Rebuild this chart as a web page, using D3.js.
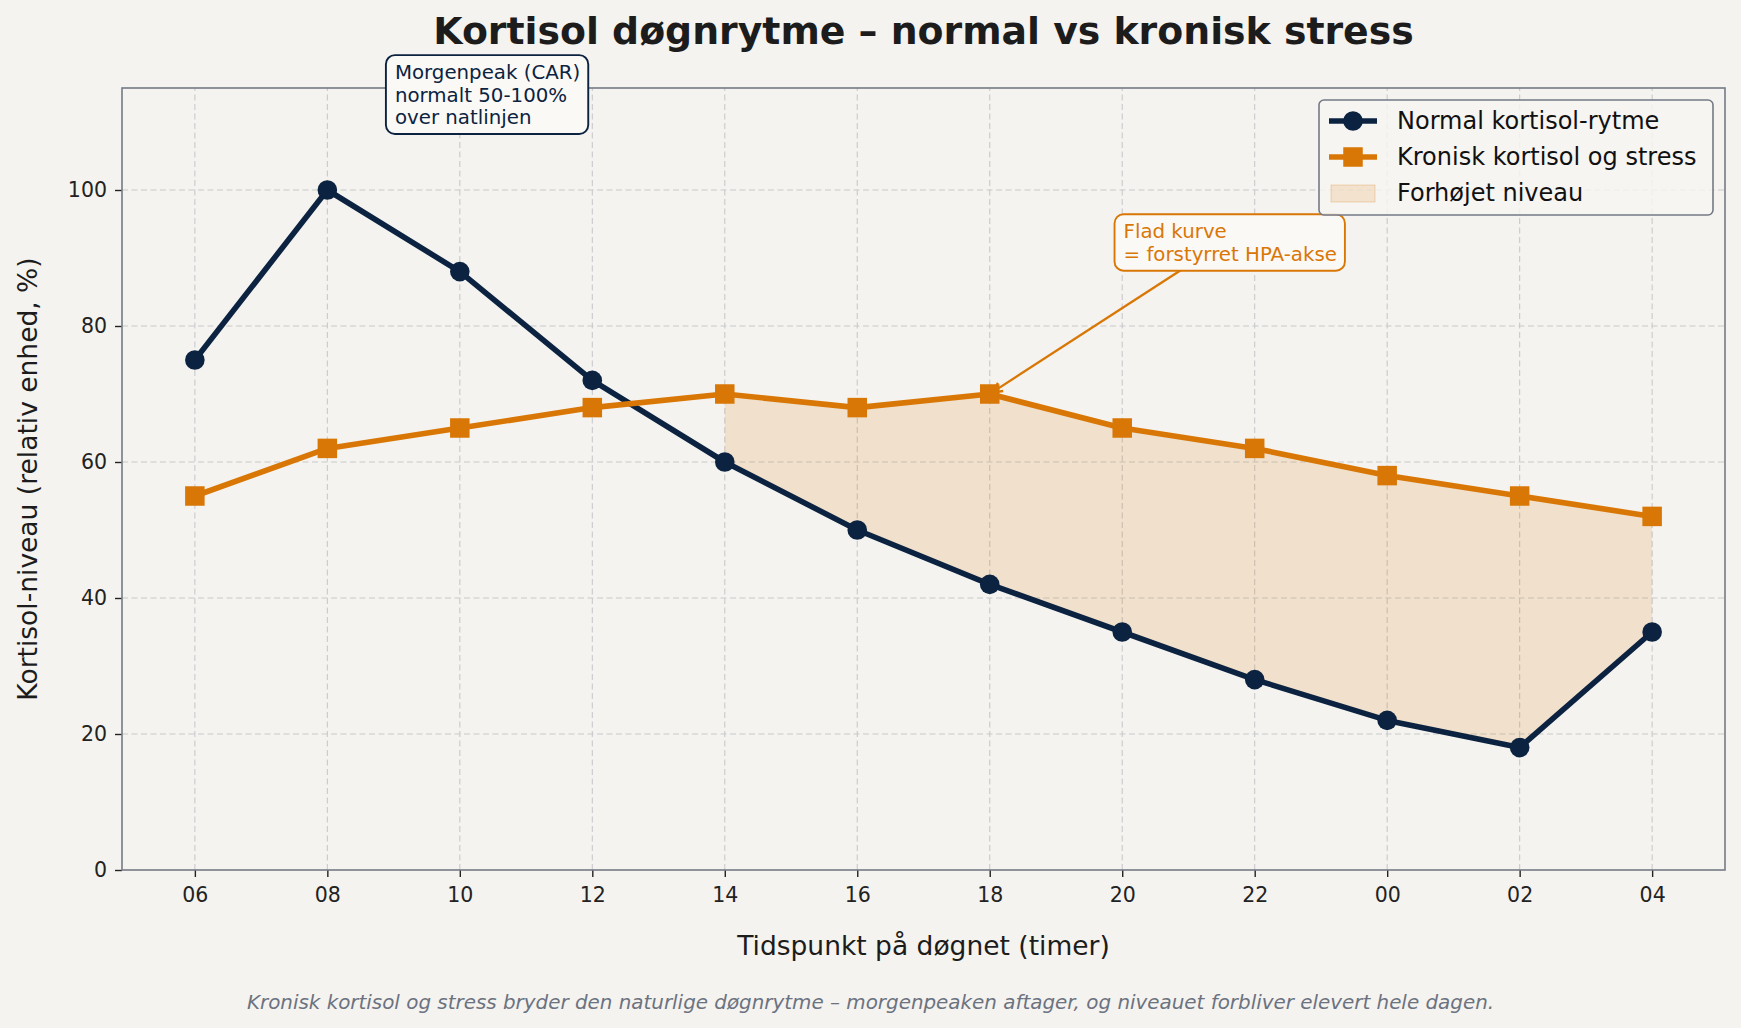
<!DOCTYPE html>
<html>
<head>
<meta charset="utf-8">
<script src="https://cdn.jsdelivr.net/npm/d3@7"></script>
<style>
  body { margin: 0; background: #f5f3ef; }
  svg { display: block; font-family: "DejaVu Sans", sans-serif; }
</style>
</head>
<body>
<div id="chart"></div>
<script>
// data
var hours = ['06', '08', '10', '12', '14', '16', '18', '20', '22', '00', '02', '04']
var normalVals = [75, 100, 88, 72, 60, 50, 42, 35, 28, 22, 18, 35]
var chronicVals = [55, 62, 65, 68, 70, 68, 70, 65, 62, 58, 55, 52]
var yTicks = [0, 20, 40, 60, 80, 100]
var fillStart = 4 // from 14 onwards chronic stays above normal

var width = 1741, height = 1028
var margin = { top: 88, right: 16, bottom: 158, left: 122 }

var navy = '#0b2341'
var orange = '#d97706'

var svg = d3.select('#chart')
  .append('svg')
  .attr('width', width)
  .attr('height', height)

svg.append('rect')
  .attr('width', width)
  .attr('height', height)
  .attr('fill', '#f5f3ef')

var xScale = d3.scaleLinear()
  .domain([-0.55, hours.length - 1 + 0.55])
  .range([margin.left, width - margin.right])

var yScale = d3.scaleLinear()
  .domain([0, 115])
  .range([height - margin.bottom, margin.top])

var idx = d3.range(hours.length)

// grid
var gridG = svg.append('g').attr('class', 'grid')
gridG.selectAll('.vgrid')
  .data(idx)
  .enter()
  .append('line')
  .attr('x1', d => xScale(d)).attr('x2', d => xScale(d))
  .attr('y1', yScale.range()[0]).attr('y2', yScale.range()[1])
  .style('stroke', '#c8c9cc')
  .style('stroke-dasharray', '6,3.5')
  .style('stroke-width', 1.1)

gridG.selectAll('.hgrid')
  .data(yTicks.slice(1))
  .enter()
  .append('line')
  .attr('x1', xScale.range()[0]).attr('x2', xScale.range()[1])
  .attr('y1', d => yScale(d)).attr('y2', d => yScale(d))
  .style('stroke', '#c8c9cc')
  .style('stroke-dasharray', '6,3.5')
  .style('stroke-width', 1.1)

// elevated area
var area = d3.area()
  .x(d => xScale(d))
  .y0(d => yScale(normalVals[d]))
  .y1(d => yScale(chronicVals[d]))

svg.append('path')
  .attr('d', area(idx.slice(fillStart)))
  .style('fill', orange)
  .style('fill-opacity', 0.15)

// lines
var line = vals => d3.line()
  .x(d => xScale(d))
  .y(d => yScale(vals[d]))(idx)

var lw = 5.6
svg.append('path')
  .attr('d', line(normalVals))
  .style('fill', 'none')
  .style('stroke', navy)
  .style('stroke-width', lw)
  .style('stroke-linejoin', 'round')

svg.selectAll('.dot-normal')
  .data(idx)
  .enter()
  .append('circle')
  .attr('cx', d => xScale(d))
  .attr('cy', d => yScale(normalVals[d]))
  .attr('r', 9.8)
  .style('fill', navy)

svg.append('path')
  .attr('d', line(chronicVals))
  .style('fill', 'none')
  .style('stroke', orange)
  .style('stroke-width', lw)
  .style('stroke-linejoin', 'round')

var sq = 19.5
svg.selectAll('.dot-chronic')
  .data(idx)
  .enter()
  .append('rect')
  .attr('x', d => xScale(d) - sq / 2)
  .attr('y', d => yScale(chronicVals[d]) - sq / 2)
  .attr('width', sq)
  .attr('height', sq)
  .style('fill', orange)

// axes
var xAxis = d3.axisBottom(xScale)
  .tickValues(idx)
  .tickFormat(d => hours[d])
  .tickSize(7)
  .tickPadding(10)

var xg = svg.append('g')
  .attr('transform', `translate(0,${height - margin.bottom})`)
  .call(xAxis)
xg.select('.domain').remove()
xg.selectAll('line').style('stroke', '#222').style('stroke-width', 1.4)
xg.selectAll('text').style('font-size', '20.5px').style('fill', '#222').style('font-family', 'DejaVu Sans')

var yAxis = d3.axisLeft(yScale)
  .tickValues(yTicks)
  .tickSize(7)
  .tickPadding(8)

var yg = svg.append('g')
  .attr('transform', `translate(${margin.left},0)`)
  .call(yAxis)
yg.select('.domain').remove()
yg.selectAll('line').style('stroke', '#222').style('stroke-width', 1.4)
yg.selectAll('text').style('font-size', '20.5px').style('fill', '#222').style('font-family', 'DejaVu Sans')

// frame
svg.append('rect')
  .attr('x', margin.left)
  .attr('y', margin.top)
  .attr('width', width - margin.left - margin.right)
  .attr('height', height - margin.top - margin.bottom)
  .style('fill', 'none')
  .style('stroke', '#737a86')
  .style('stroke-width', 1.6)

var plotCx = (xScale.range()[0] + xScale.range()[1]) / 2

// title
svg.append('text')
  .attr('x', plotCx)
  .attr('y', 44)
  .attr('text-anchor', 'middle')
  .text('Kortisol døgnrytme – normal vs kronisk stress')
  .style('font-size', '37.8px')
  .style('font-weight', 'bold')
  .style('fill', '#1c1c1c')

// axis labels
svg.append('text')
  .attr('x', plotCx)
  .attr('y', 955)
  .attr('text-anchor', 'middle')
  .text('Tidspunkt på døgnet (timer)')
  .style('font-size', '26.5px')
  .style('fill', '#1c1c1c')

svg.append('text')
  .attr('transform', `translate(37,${(yScale.range()[0] + yScale.range()[1]) / 2}) rotate(-90)`)
  .attr('text-anchor', 'middle')
  .text('Kortisol-niveau (relativ enhed, %)')
  .style('font-size', '26.5px')
  .style('fill', '#1c1c1c')

// footnote
svg.append('text')
  .attr('x', width / 2)
  .attr('y', 1009)
  .attr('text-anchor', 'middle')
  .text('Kronisk kortisol og stress bryder den naturlige døgnrytme – morgenpeaken aftager, og niveauet forbliver elevert hele dagen.')
  .style('font-size', '19.9px')
  .style('font-style', 'italic')
  .style('fill', '#6b7280')

// annotation boxes
function noteBox(lines, px, py, color, fontSize, lineH) {
  var g = svg.append('g')
  var t = g.append('text')
    .style('font-size', fontSize + 'px')
    .style('fill', color)
  lines.forEach((l, i) => {
    t.append('tspan')
      .attr('x', px)
      .attr('y', py + i * lineH)
      .text(l)
  })
  var bb = t.node().getBBox()
  g.insert('rect', 'text')
    .attr('x', bb.x - 9)
    .attr('y', bb.y - 6)
    .attr('width', bb.width + 17)
    .attr('height', bb.height + 11)
    .attr('rx', 9)
    .style('fill', '#fbf9f6')
    .style('stroke', color)
    .style('stroke-width', 1.9)
}

noteBox(['Morgenpeak (CAR)', 'normalt 50-100%', 'over natlinjen'], xScale(1.51), yScale(116.3), navy, 19.8, 22.4)

// arrow for flat curve note (drawn over the markers)
var arrowTip = { x: xScale(6), y: yScale(chronicVals[6]) }
var boxAnchor = { x: xScale(7.45), y: yScale(88.3) }
var ang = Math.atan2(boxAnchor.y - arrowTip.y, boxAnchor.x - arrowTip.x)
var tip = { x: arrowTip.x + 3 * Math.cos(ang), y: arrowTip.y + 3 * Math.sin(ang) }
svg.append('line')
  .attr('x1', boxAnchor.x).attr('y1', boxAnchor.y)
  .attr('x2', tip.x).attr('y2', tip.y)
  .style('stroke', orange)
  .style('stroke-width', 2.3)
var hl = 11, ha = 0.45
svg.append('path')
  .attr('d', `M${tip.x + hl * Math.cos(ang + ha)},${tip.y + hl * Math.sin(ang + ha)} L${tip.x},${tip.y} L${tip.x + hl * Math.cos(ang - ha)},${tip.y + hl * Math.sin(ang - ha)}`)
  .style('fill', 'none')
  .style('stroke', orange)
  .style('stroke-width', 2.3)

noteBox(['Flad kurve', '= forstyrret HPA-akse'], xScale(7.01), yScale(92.9), orange, 19.8, 22.4)

// legend
var legend = svg.append('g').attr('transform', 'translate(1319,100)')
legend.append('rect')
  .attr('width', 394)
  .attr('height', 115)
  .attr('rx', 5)
  .style('fill', '#f7f5f1')
  .style('fill-opacity', 0.85)
  .style('stroke', '#737a86')
  .style('stroke-width', 1.6)

var legendItems = ['Normal kortisol-rytme', 'Kronisk kortisol og stress', 'Forhøjet niveau']
legendItems.forEach((name, i) => {
  var cy = 21 + i * 36
  var row = legend.append('g').attr('transform', `translate(0,${cy})`)
  if (i === 0) {
    row.append('line').attr('x1', 10).attr('x2', 58).style('stroke', navy).style('stroke-width', lw)
    row.append('circle').attr('cx', 34).attr('r', 9.8).style('fill', navy)
  } else if (i === 1) {
    row.append('line').attr('x1', 10).attr('x2', 58).style('stroke', orange).style('stroke-width', lw)
    row.append('rect').attr('x', 34 - sq / 2).attr('y', -sq / 2).attr('width', sq).attr('height', sq).style('fill', orange)
  } else {
    row.append('rect').attr('x', 12).attr('y', -8).attr('width', 44).attr('height', 17)
      .style('fill', orange).style('fill-opacity', 0.15)
      .style('stroke', orange).style('stroke-opacity', 0.25)
  }
  row.append('text')
    .attr('x', 78)
    .attr('y', 8)
    .text(name)
    .style('font-size', '24px')
    .style('fill', '#111')
})
</script>
</body>
</html>
